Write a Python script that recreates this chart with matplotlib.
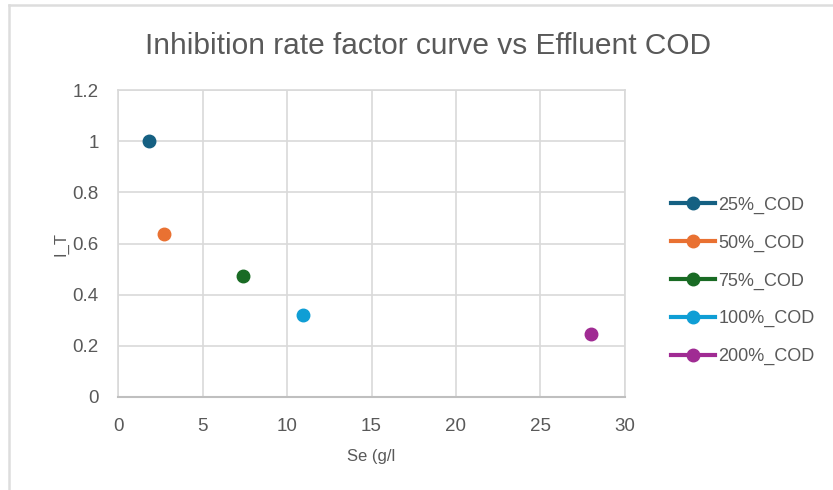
import matplotlib
matplotlib.use("Agg")
import matplotlib.pyplot as plt
from matplotlib.lines import Line2D

# effluent COD (g/l) and inhibition factor per dilution
series = ["25%_COD", "50%_COD", "75%_COD", "100%_COD", "200%_COD"]
se = [1.8, 2.69, 7.41, 10.95, 27.98]
i_t = [1.0, 0.639, 0.472, 0.322, 0.245]
colors = ["#156082", "#E97132", "#196B24", "#0F9ED5", "#A02B93"]

xticks = [0, 5, 10, 15, 20, 25, 30]
yticks = [0, 0.2, 0.4, 0.6, 0.8, 1, 1.2]
ylabels = ["0", "0.2", "0.4", "0.6", "0.8", "1", "1.2"]

plt.rcParams['font.family'] = ['Liberation Sans', 'DejaVu Sans']
txt = "#595959"
grid = "#D9D9D9"

fig = plt.figure(figsize=(8.33, 4.9), dpi=100)
ax = fig.add_axes([0.142, 0.190, 0.608, 0.626])

for name, x, y, c in zip(series, se, i_t, colors):
    ax.plot([x], [y], marker='o', ms=9, color=c, lw=3, label=name,
            linestyle='-', zorder=3)

ax.set_xlim(0, 30)
ax.set_ylim(0, 1.2)
ax.set_xticks(xticks)
ax.set_yticks(yticks)
ax.set_yticklabels(ylabels)
ax.tick_params(length=0, labelsize=13.5, colors=txt)
ax.tick_params(axis='y', pad=14)
ax.tick_params(axis='x', pad=15)
ax.grid(True, color=grid, lw=1.2)
ax.set_axisbelow(True)
for s in ax.spines.values():
    s.set_color(grid)
    s.set_linewidth(1.2)
ax.spines['bottom'].set_color('#BFBFBF')
ax.spines['bottom'].set_linewidth(1.5)

ax.set_xlabel("Se (g/l", fontsize=12, color=txt, labelpad=10)
ax.set_ylabel("I_T", fontsize=12, color=txt, labelpad=3)
fig.text(0.514, 0.907, "Inhibition rate factor curve vs Effluent COD",
         ha='center', va='center', fontsize=21.5, color=txt)

leg = ax.legend(loc='center left', bbox_to_anchor=(1.06, 0.378), frameon=False,
                fontsize=13, labelcolor=txt, handlelength=2.4,
                handletextpad=0.2, labelspacing=1.14)

# outer chart frame (left and top edges)
fig.add_artist(Line2D([0.011, 0.011], [0, 0.99], color='#DDDDDD', lw=1.8,
                      transform=fig.transFigure))
fig.add_artist(Line2D([0.011, 1], [0.99, 0.99], color='#DDDDDD', lw=1.8,
                      transform=fig.transFigure))

fig.savefig("out.png", dpi=100, facecolor='white')
